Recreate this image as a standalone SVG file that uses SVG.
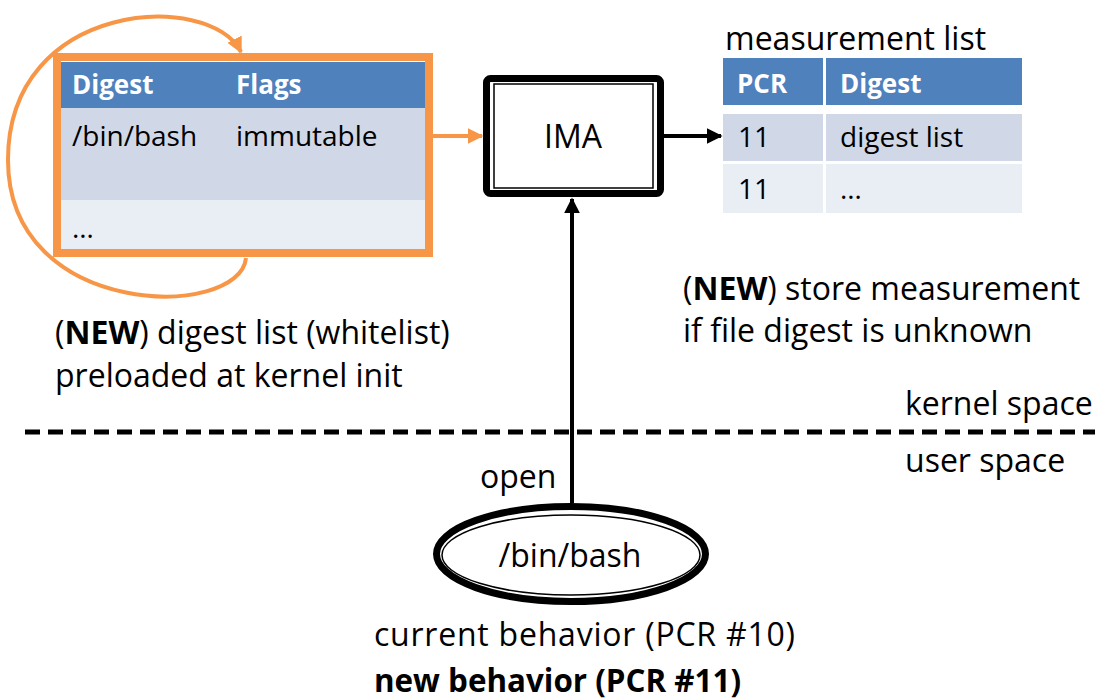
<svg xmlns="http://www.w3.org/2000/svg" width="1095" height="699" viewBox="0 0 1095 699">
  <style>
    text { font-family: "Open Sans", "Noto Sans", sans-serif; fill: #000; }
    .t { font-size: 32px; }
    .cell { font-size: 28px; }
    .hdr { font-size: 26px; font-weight: bold; fill: #fff; }
    .b { font-weight: bold; }
  </style>
  <defs>
    <marker id="arrBlack" viewBox="0 0 10 10" refX="9" refY="5" markerWidth="4" markerHeight="4" orient="auto" markerUnits="strokeWidth">
      <path d="M0,0 L10,5 L0,10 z" fill="#000"/>
    </marker>
    <marker id="arrOrange" viewBox="0 0 10 10" refX="9" refY="5" markerWidth="4" markerHeight="4" orient="auto" markerUnits="strokeWidth">
      <path d="M0,0 L10,5 L0,10 z" fill="#F79646"/>
    </marker>
  </defs>
  <rect width="1095" height="699" fill="#fff"/>

  <!-- digest list (whitelist) table -->
  <g id="digest-list">
    <rect x="57" y="62" width="372" height="46" fill="#4F81BD"/>
    <rect x="57" y="108" width="372" height="92" fill="#D0D8E8"/>
    <rect x="57" y="200" width="372" height="53" fill="#E9EDF4"/>
    <rect x="57" y="57" width="372" height="196" fill="none" stroke="#F79646" stroke-width="8"/>
    <text class="hdr" x="72" y="94">Digest</text>
    <text class="hdr" x="236" y="94">Flags</text>
    <text class="cell" x="72" y="146">/bin/bash</text>
    <text class="cell" x="236" y="146">immutable</text>
    <text class="cell" x="72" y="238">…</text>
  </g>

  <!-- IMA -->
  <g id="ima">
    <rect x="486.5" y="78.5" width="174" height="115" rx="4" fill="#fff" stroke="#000" stroke-width="7"/>
    <rect x="494" y="84" width="159" height="104" fill="none" stroke="#000" stroke-width="1.5"/>
    <text class="t" x="573" y="148" text-anchor="middle">IMA</text>
  </g>

  <!-- measurement list table -->
  <g id="measurement-list">
    <text class="t" x="725" y="50">measurement list</text>
    <rect x="723" y="58" width="100" height="47" fill="#4F81BD"/>
    <rect x="826" y="58" width="196" height="47" fill="#4F81BD"/>
    <rect x="723" y="114" width="100" height="47" fill="#D0D8E8"/>
    <rect x="826" y="114" width="196" height="47" fill="#D0D8E8"/>
    <rect x="723" y="164" width="100" height="49" fill="#E9EDF4"/>
    <rect x="826" y="164" width="196" height="49" fill="#E9EDF4"/>
    <text class="hdr" x="737" y="93">PCR</text>
    <text class="hdr" x="840" y="93">Digest</text>
    <text class="cell" x="738" y="147">11</text>
    <text class="cell" x="840" y="147">digest list</text>
    <text class="cell" x="738" y="199">11</text>
    <text class="cell" x="840" y="199">…</text>
  </g>

  <!-- /bin/bash file -->
  <g id="bash-file">
    <ellipse cx="571" cy="554" rx="134.5" ry="47.5" fill="#fff" stroke="#000" stroke-width="7"/>
    <ellipse cx="571" cy="555" rx="129" ry="40" fill="none" stroke="#000" stroke-width="1.5"/>
    <text class="t" x="570" y="567" text-anchor="middle">/bin/bash</text>
  </g>

  <!-- kernel / user boundary -->
  <g id="boundary">
    <line x1="25" y1="432" x2="1095" y2="432" stroke="#000" stroke-width="5" stroke-dasharray="15 8"/>
    <text class="t" x="905" y="415">kernel space</text>
    <text class="t" x="905" y="472">user space</text>
  </g>

  <!-- connectors -->
  <g id="connectors" fill="none">
    <path d="M433 136 L482 136" stroke="#F79646" stroke-width="4" marker-end="url(#arrOrange)"/>
    <path d="M664 136 L721 136" stroke="#000" stroke-width="4" marker-end="url(#arrBlack)"/>
    <path d="M572 503 L572 199" stroke="#000" stroke-width="4" marker-end="url(#arrBlack)"/>
    <path d="M246 258 C240 320, 8 320, 8 160 C8 0, 210 -10, 241 52" stroke="#F79646" stroke-width="4" marker-end="url(#arrOrange)"/>
  </g>

  <!-- annotations -->
  <g id="labels">
    <text class="t" x="55" y="344">(<tspan class="b">NEW</tspan>) digest list (whitelist)</text>
    <text class="t" x="55" y="387">preloaded at kernel init</text>
    <text class="t" x="683" y="300">(<tspan class="b">NEW</tspan>) store measurement</text>
    <text class="t" x="683" y="342">if file digest is unknown</text>
    <text class="t" x="480" y="488">open</text>
    <text class="t" x="374" y="646" textLength="421">current behavior (PCR #10)</text>
    <text class="t b" x="374" y="692" textLength="367" lengthAdjust="spacingAndGlyphs">new behavior (PCR #11)</text>
  </g>
</svg>
